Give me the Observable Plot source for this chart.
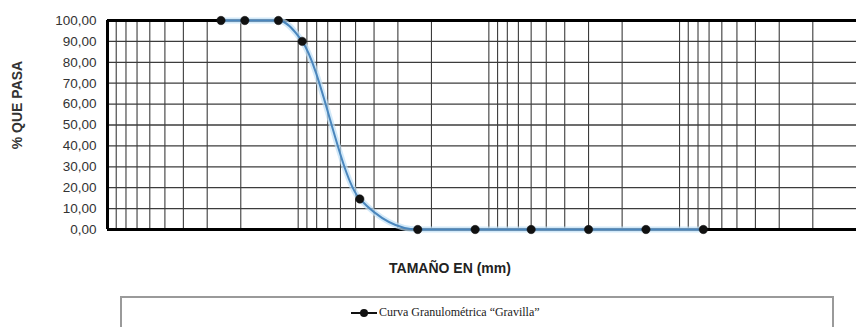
<!DOCTYPE html>
<html>
<head>
<meta charset="utf-8">
<script src="https://cdn.jsdelivr.net/npm/d3@7"></script>
<script src="https://cdn.jsdelivr.net/npm/@observablehq/plot@0.6"></script>
<style>
  html, body { margin: 0; padding: 0; background: #fff; overflow: hidden; }
  #wrap { position: relative; width: 856px; height: 327px; overflow: hidden; }
  #chart { position: absolute; left: 0; top: 0; }
  #ylab { position: absolute; left: 17px; top: 105px; transform: translate(-50%, -50%) rotate(-90deg);
          font: bold 14px "Liberation Sans", Arial, sans-serif; color: #333; white-space: nowrap; }
  #xlab { position: absolute; left: 450px; top: 268px; transform: translate(-50%, -50%);
          font: bold 14px "Liberation Sans", Arial, sans-serif; color: #222; white-space: nowrap; }
  #legend { position: absolute; left: 120px; top: 296px; width: 714px; height: 60px;
            border: 2px solid #9a9a9a; box-sizing: border-box; }
  #legItem { position: absolute; left: 228px; top: 7px; display: flex; align-items: center;
             font: 12px "Liberation Serif", "Times New Roman", serif; color: #222; white-space: nowrap; }
</style>
</head>
<body>
<div id="wrap">
  <div id="chart"></div>
  <div id="ylab">% QUE PASA</div>
  <div id="xlab">TAMAÑO EN (mm)</div>
  <div id="legend"><div id="legItem"></div></div>
</div>
<script>
// Sieve openings (mm) and percent passing
const tamanoMm = [25.4, 19.05, 12.7, 9.525, 4.75, 2.36, 1.18, 0.6, 0.3, 0.15, 0.075];
const pctPasa  = [100, 100, 100, 90, 14.6, 0, 0, 0, 0, 0, 0];
const yTicks   = [0, 10, 20, 30, 40, 50, 60, 70, 80, 90, 100];
const xDecades = [0.01, 0.1, 1, 10];
const xMultipliers = [1, 2, 3, 4, 5, 6, 7, 8, 9];
const serieLabel = "Curva Granulométrica \u201CGravilla\u201D";

const data = tamanoMm.map((t, i) => ({t, p: pctPasa[i]}));
const xDomain = [100, 0.0118];
const xGrid = [];
for (const d of xDecades) for (const m of xMultipliers) {
  const v = +(d * m).toPrecision(3);
  if (v <= xDomain[0] && v >= xDomain[1]) xGrid.push(v);
}
xGrid.push(100);

const chart = Plot.plot({
  width: 856,
  height: 240,
  marginLeft: 107,
  marginRight: 0,
  marginTop: 20,
  marginBottom: 11,
  style: {background: "#fff"},
  x: {type: "log", domain: xDomain, axis: null},
  y: {domain: [0, 100], axis: null},
  marks: [
    Plot.ruleX(xGrid, {stroke: "#3c3c3c", strokeWidth: 1.1}),
    Plot.ruleY(yTicks, {stroke: "#3c3c3c", strokeWidth: 1.3}),
    Plot.ruleY([0, 100], {stroke: "#000", strokeWidth: 3}),
    Plot.ruleX([100], {stroke: "#000", strokeWidth: 3}),
    Plot.line(data, {x: "t", y: "p", curve: "monotone-x", stroke: "#bfe0f7", strokeWidth: 6, strokeOpacity: 0.7}),
    Plot.line(data, {x: "t", y: "p", curve: "monotone-x", stroke: "#4a86bd", strokeWidth: 2}),
    Plot.dot(data, {x: "t", y: "p", r: 4.2, fill: "#111", stroke: "#111", strokeWidth: 0.5}),
    Plot.axisY({ticks: yTicks, tickSize: 0, tickPadding: 11, label: null,
      tickFormat: d => d.toFixed(2).replace(".", ","),
      fontSize: 13.5, fill: "#333", fontFamily: "Liberation Sans, Arial, sans-serif"})
  ]
});
chart.style.fontFamily = "Liberation Sans, Arial, sans-serif";
chart.style.fontSize = "13.5px";
document.getElementById("chart").appendChild(chart);

// legend
const item = document.getElementById("legItem");
item.innerHTML = `<svg width="28" height="14" style="margin-right:1px"><line x1="1" y1="7" x2="27" y2="7" stroke="#111" stroke-width="2"/><circle cx="14" cy="7" r="4" fill="#111"/></svg><span>${serieLabel}</span>`;
</script>
</body>
</html>
